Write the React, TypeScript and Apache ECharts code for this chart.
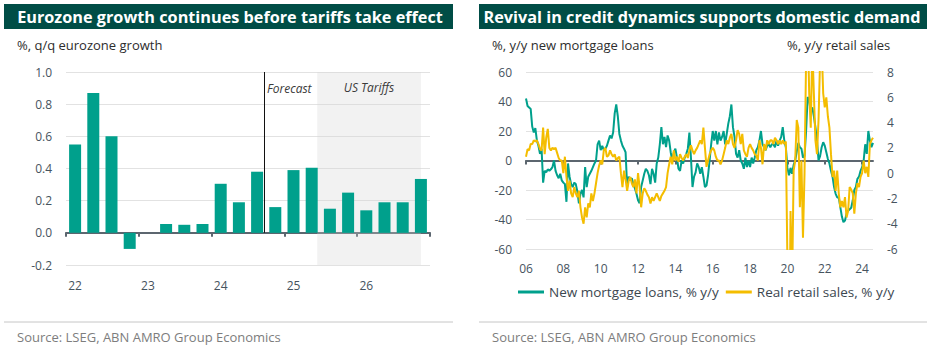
import React, { useEffect, useRef } from "react";
import * as echarts from "echarts";

// ---------- Left chart data ----------
const quarters = [
  "22Q1", "22Q2", "22Q3", "22Q4",
  "23Q1", "23Q2", "23Q3", "23Q4",
  "24Q1", "24Q2", "24Q3", "24Q4",
  "25Q1", "25Q2", "25Q3", "25Q4",
  "26Q1", "26Q2", "26Q3", "26Q4",
];
const gdpGrowth = [
  0.55, 0.87, 0.6, -0.1,
  0.0, 0.055, 0.05, 0.055,
  0.305, 0.19, 0.38, 0.16,
  0.39, 0.405, 0.15, 0.25,
  0.14, 0.19, 0.19, 0.335,
];
const forecastAt = 10.92; // position (in quarter units) of the forecast divider
const tariffFrom = 13.8;
const tariffTo = 19.5;

// ---------- Right chart data (monthly from Jan 2006) ----------
const startYear = 2006;
const mortgageLoans = [
  // 2006
  42, 37, 36, 35, 23, 19, 22, 13.5, 10, 4.5, 8, -15,
  // 2007
  -7, -8, -6, -7, -6, -4.5, 0, -7, -10, -12, -9, -13.5,
  // 2008
  -15, -16, -28, -2, -11, -16, -18, -15, -16, -21, -29, -22.6,
  // 2009
  -20, -25, -4.5, -18, -11, -9, -7, -4.5, -2, 0, 11, 13.5,
  // 2010
  7, 10, 7, 8, 10, 13.5, 17, 15, 19, 32, 38, 30,
  // 2011
  18, 13.5, 10, 8, 5.6, -18, -11, -13.5, -12, -16, -19, -22.6,
  // 2012
  -27, -29, -18, -13.5, -9, -5.6, -7, -10, -16, -5.6, -9, -15,
  // 2013
  -2, 2, 11, 22.6, 11, 16, 9, 17, 13.5, 5.6, 0, 5.6,
  // 2014
  8, 2, -5.6, -7, 0, -2, 2, 4.5, 8, 19, 2, -18,
  // 2015
  -11, -8, -2, -4.5, -9, -4.5, -11, -18, -17, -10, 0, 11,
  // 2016
  20, 13.5, 20, 11, 19, 13.5, 16, 20, 11, 18, 25, 30,
  // 2017
  38, 22.6, 16, 4.5, 2, 7, 0, -2, -5.6, 2, -4.5, 0,
  // 2018
  -4.5, 2, -2, 2, 7, 9, 13.5, 20, 11, 9, 7, 10,
  // 2019
  11, 9, 11, 11, 9, 13.5, 10, 13.5, 16, 22.6, 13.5, 9,
  // 2020
  -5, -10, -5, -9, -3, 0, 6, 12, 9, 8, 2, 3,
  // 2021
  20, 43, 41, 33, 36, 30, 22.6, 13.5, 0, 3, 9, 12.4,
  // 2022
  10, 5.6, 1, -2, -7, -11, -18, -22.6, -25, -25, -31.6, -38,
  // 2023
  -41.8, -40.7, -36, -34, -33, -32, -27, -20, -18, -12.4, -11, -7,
  // 2024
  -4.5, 0, 11, 4.5, 20, 13.5, 9, 12,
];
const retailSales = [
  // 2006
  1.3, 1.9, 1.8, 2.3, 2.3, 2.6, 2.5, 2.6, 2.3, 1.9, 1.8, 3.6,
  // 2007
  1.5, 2.8, 3.5, 2.0, 1.8, 2.0, 1.9, 2.0, 1.6, 1.2, 1.0, 1.0,
  // 2008
  0, 1.3, -0.3, -1.4, -0.6, -1.6, -1.9, -1.1, -1.6, -1.9, -1.4, -2.7,
  // 2009
  -3.5, -4.0, -2.7, -3.5, -2.4, -2.7, -1.6, -2.2, -1.6, -0.8, 0, 0.6,
  // 2010
  1.0, 0.7, 1.8, 2.0, 1.3, 1.4, 1.8, 1.5, 1.3, 1.5, 1.0, 1.2,
  // 2011
  1.3, 0, -1.1, 0.2, -0.5, -1.4, -0.6, -0.3, -0.8, -1.1, -0.5, -1.6,
  // 2012
  0, -1.1, -2.7, -1.6, -1.2, -1.4, -1.7, -1.9, -2.4, -1.9, -2.2, -1.9,
  // 2013
  -1.6, -1.9, -2.2, -1.8, -1.6, -1.4, -1.1, 0, 0.7, 1.3, 0.7, 1.8,
  // 2014
  1.0, 1.3, 0.9, 1.5, 1.2, 1.0, 1.3, 1.5, 1.2, 1.8, 2.2, 1.8,
  // 2015
  1.5, 1.8, 2.0, 2.3, 2.6, 2.3, 3.6, 2.0, 0.5, 1.0, 1.5, 1.8,
  // 2016
  2.0, 1.8, 1.3, 1.0, 1.0, 0.7, 1.0, 1.5, 2.0, 2.6, 2.3, 2.8,
  // 2017
  3.1, 2.3, 2.0, 2.6, 3.4, 3.1, 2.3, 3.1, 1.8, 1.5, 1.3, 2.0,
  // 2018
  2.3, 2.0, 1.8, 1.5, 1.4, 1.0, 2.6, 2.0, 0.7, 2.3, 1.8, 2.6,
  // 2019
  2.3, 2.6, 2.6, 2.3, 2.8, 2.6, 2.3, 2.6, 2.3, 2.6, 2.3, 2.5,
  // 2020
  -7, -18, -3, -9, 0.2, 1.0, 4.2, 3.6, -2.7, 1.0, -5.1, 0,
  // 2021
  9, 12, 6.3, 3.6, 10, 6.3, 2.6, 1.5, 4.2, 9, 10, 6.3,
  // 2022
  5.2, 6.0, 4.5, 3.6, 1.5, -0.3, 0.2, -1.4, 0.2, -1.6, -2.7, -2.2,
  // 2023
  -2.7, -1.9, -3.5, -3, -1.1, -1.3, -1.6, -3.2, -1.6, -0.8, -1.1, -0.3,
  // 2024
  0, 1.0, 0, 0.5, -0.3, 2.3, 2.6, 2.8,
];
const months = mortgageLoans.map(
  (_, i) => `${startYear + Math.floor(i / 12)}-${String((i % 12) + 1).padStart(2, "0")}`
);

const leftTitle = "Eurozone growth continues before tariffs take effect";
const rightTitle = "Revival in credit dynamics supports domestic demand";
const leftSubtitle = "%, q/q eurozone growth";
const rightSubtitleL = "%, y/y new mortgage loans";
const rightSubtitleR = "%, y/y retail sales";
const sourceText = "Source: LSEG, ABN AMRO Group Economics";
const mortgageName = "New mortgage loans, % y/y";
const retailName = "Real retail sales, % y/y";

const FONT = "Open Sans";
const TITLE_FONT = "Open Sans";
const TITLE_TARGET_WIDTH = 426;
const TEAL = "#00a08c";
const YELLOW = "#f4bd00";
const DARK = "#004d46";
const AXIS_TXT = "#46535e";
const AXIS_LINE = "#5c666f";
const GRID = "#e2e2e2";

function fitTitleSize(): number {
  try {
    const c = document.createElement("canvas").getContext("2d");
    if (!c) return 16.5;
    c.font = `bold 20px "${TITLE_FONT}"`;
    const w = c.measureText(leftTitle).width;
    if (!w) return 16.5;
    return Math.min(18, Math.max(13, (20 * TITLE_TARGET_WIDTH) / w));
  } catch (e) {
    return 16.5;
  }
}

export default function App() {
  const ref = useRef<HTMLDivElement>(null);

  useEffect(() => {
    document.body.style.margin = "0";
    if (!ref.current) return;
    const chart = echarts.init(ref.current, undefined, { renderer: "svg" });

    const axisLabel = { color: AXIS_TXT, fontSize: 12, fontFamily: FONT };
    const titleStyle = {
      fill: "#fff", fontSize: fitTitleSize(), fontWeight: "bold", fontFamily: TITLE_FONT,
      align: "center", verticalAlign: "middle", textAlign: "center", textVerticalAlign: "middle",
    };
    const bodyStyle = { fontSize: 13, fontFamily: FONT, verticalAlign: "middle", textVerticalAlign: "middle" };

    const option: any = {
      animation: false,
      backgroundColor: "#ffffff",
      textStyle: { fontFamily: FONT },
      grid: [
        { left: 66, top: 72, width: 364, height: 193 },
        { left: 526, top: 72, width: 347, height: 177 },
      ],
      xAxis: [
        {
          gridIndex: 0, type: "category", data: quarters, position: "bottom",
          axisLine: { show: false, onZero: false }, axisTick: { show: false },
          axisLabel: { ...axisLabel, interval: 3, margin: 14, formatter: (v: string) => v.slice(0, 2) },
          splitLine: { show: false },
        },
        {
          gridIndex: 0, type: "category", data: quarters, position: "bottom",
          axisLine: { show: true, onZero: true, onZeroAxisIndex: 0, lineStyle: { color: AXIS_LINE, width: 2 } },
          axisTick: { show: true, interval: 3, length: 4, lineStyle: { color: AXIS_LINE, width: 2 } },
          axisLabel: { show: false }, splitLine: { show: false },
        },
        { gridIndex: 0, type: "value", min: 0, max: quarters.length, show: false, axisLine: { onZero: false } },
        {
          gridIndex: 1, type: "category", data: months, boundaryGap: false, position: "bottom",
          axisLine: { show: false, onZero: false }, axisTick: { show: false },
          axisLabel: { ...axisLabel, interval: 23, margin: 13, formatter: (v: string) => v.slice(2, 4) },
          splitLine: { show: false },
        },
        {
          gridIndex: 1, type: "category", data: months, boundaryGap: false, position: "bottom",
          axisLine: { show: true, onZero: true, onZeroAxisIndex: 1, lineStyle: { color: AXIS_LINE, width: 2 } },
          axisTick: { show: true, interval: 23, length: 4, lineStyle: { color: AXIS_LINE, width: 2 } },
          axisLabel: { show: false }, splitLine: { show: false },
        },
      ],
      yAxis: [
        {
          gridIndex: 0, type: "value", min: -0.2, max: 1.0, interval: 0.2,
          axisLine: { show: false, onZero: false }, axisTick: { show: false },
          axisLabel: { ...axisLabel, margin: 14, formatter: (v: number) => v.toFixed(1) },
          splitLine: { lineStyle: { color: GRID, width: 1 } },
        },
        {
          gridIndex: 1, type: "value", min: -60, max: 60, interval: 20,
          axisLine: { show: false, onZero: false }, axisTick: { show: false },
          axisLabel: { ...axisLabel, margin: 14 },
          splitLine: { lineStyle: { color: GRID, width: 1 } },
        },
        {
          gridIndex: 1, type: "value", position: "right", min: -6, max: 8, interval: 2,
          axisLine: { show: false, onZero: false }, axisTick: { show: false },
          axisLabel: { ...axisLabel, margin: 14 },
          splitLine: { show: false },
        },
      ],
      legend: {
        data: [mortgageName, retailName],
        left: 518, top: 285, padding: 0,
        icon: "rect", itemWidth: 26, itemHeight: 3, itemGap: 7,
        textStyle: { fontSize: 13.5, color: "#3c4750", fontFamily: FONT },
      },
      series: [
        {
          type: "bar", name: "GDP", xAxisIndex: 0, yAxisIndex: 0, data: gdpGrowth,
          barWidth: 12, itemStyle: { color: TEAL }, z: 2,
        },
        {
          type: "line", name: "annotations", xAxisIndex: 2, yAxisIndex: 0, data: [], z: 3, silent: true,
          markArea: {
            silent: true,
            itemStyle: { color: "rgba(212,212,212,0.3)" },
            label: {
              show: true, position: "insideTop", distance: 9, formatter: "US Tariffs",
              fontStyle: "italic", color: "#3a3a3a", fontSize: 12, fontFamily: FONT,
            },
            data: [[{ xAxis: tariffFrom, yAxis: -0.2 }, { xAxis: tariffTo, yAxis: 1.0 }]],
          },
          markLine: {
            silent: true, symbol: "none",
            lineStyle: { color: "#111", width: 1, type: "solid" },
            label: { show: false },
            data: [[{ coord: [forecastAt, 0] }, { coord: [forecastAt, 1.0] }]],
          },
        },
        {
          type: "line", name: mortgageName, xAxisIndex: 3, yAxisIndex: 1, data: mortgageLoans,
          showSymbol: false, symbol: "none", lineStyle: { color: TEAL, width: 2 }, itemStyle: { color: TEAL }, z: 3,
        },
        {
          type: "line", name: retailName, xAxisIndex: 3, yAxisIndex: 2, data: retailSales,
          showSymbol: false, symbol: "none", lineStyle: { color: YELLOW, width: 2 }, itemStyle: { color: YELLOW }, z: 4,
        },
      ],
      graphic: [
        { type: "rect", shape: { x: 4, y: 4, width: 449, height: 25 }, style: { fill: DARK }, silent: true },
        { type: "rect", shape: { x: 479, y: 4, width: 448, height: 25 }, style: { fill: DARK }, silent: true },
        { type: "text", x: 230, y: 17, style: { ...titleStyle, text: leftTitle } },
        { type: "text", x: 702, y: 17, style: { ...titleStyle, text: rightTitle } },
        { type: "text", x: 17, y: 45, style: { ...bodyStyle, text: leftSubtitle, fill: "#2d2d2d" } },
        { type: "text", x: 492, y: 45, style: { ...bodyStyle, text: rightSubtitleL, fill: "#2d2d2d" } },
        { type: "text", x: 787, y: 45, style: { ...bodyStyle, text: rightSubtitleR, fill: "#2d2d2d" } },
        {
          type: "text", x: 267, y: 88,
          style: { text: "Forecast", fill: "#3a3a3a", fontSize: 12, fontStyle: "italic", fontFamily: FONT, verticalAlign: "middle", textVerticalAlign: "middle" },
        },
        { type: "line", shape: { x1: 4, y1: 322, x2: 453, y2: 322 }, style: { stroke: "#c6c6c6", lineWidth: 1 }, silent: true },
        { type: "line", shape: { x1: 479, y1: 322, x2: 927, y2: 322 }, style: { stroke: "#c6c6c6", lineWidth: 1 }, silent: true },
        { type: "text", x: 17, y: 337, style: { ...bodyStyle, text: sourceText, fill: "#7d7d7d" } },
        { type: "text", x: 492, y: 337, style: { ...bodyStyle, text: sourceText, fill: "#7d7d7d" } },
      ],
    };

    chart.setOption(option);
    return () => chart.dispose();
  }, []);

  return <div ref={ref} style={{ width: 938, height: 349 }} />;
}
